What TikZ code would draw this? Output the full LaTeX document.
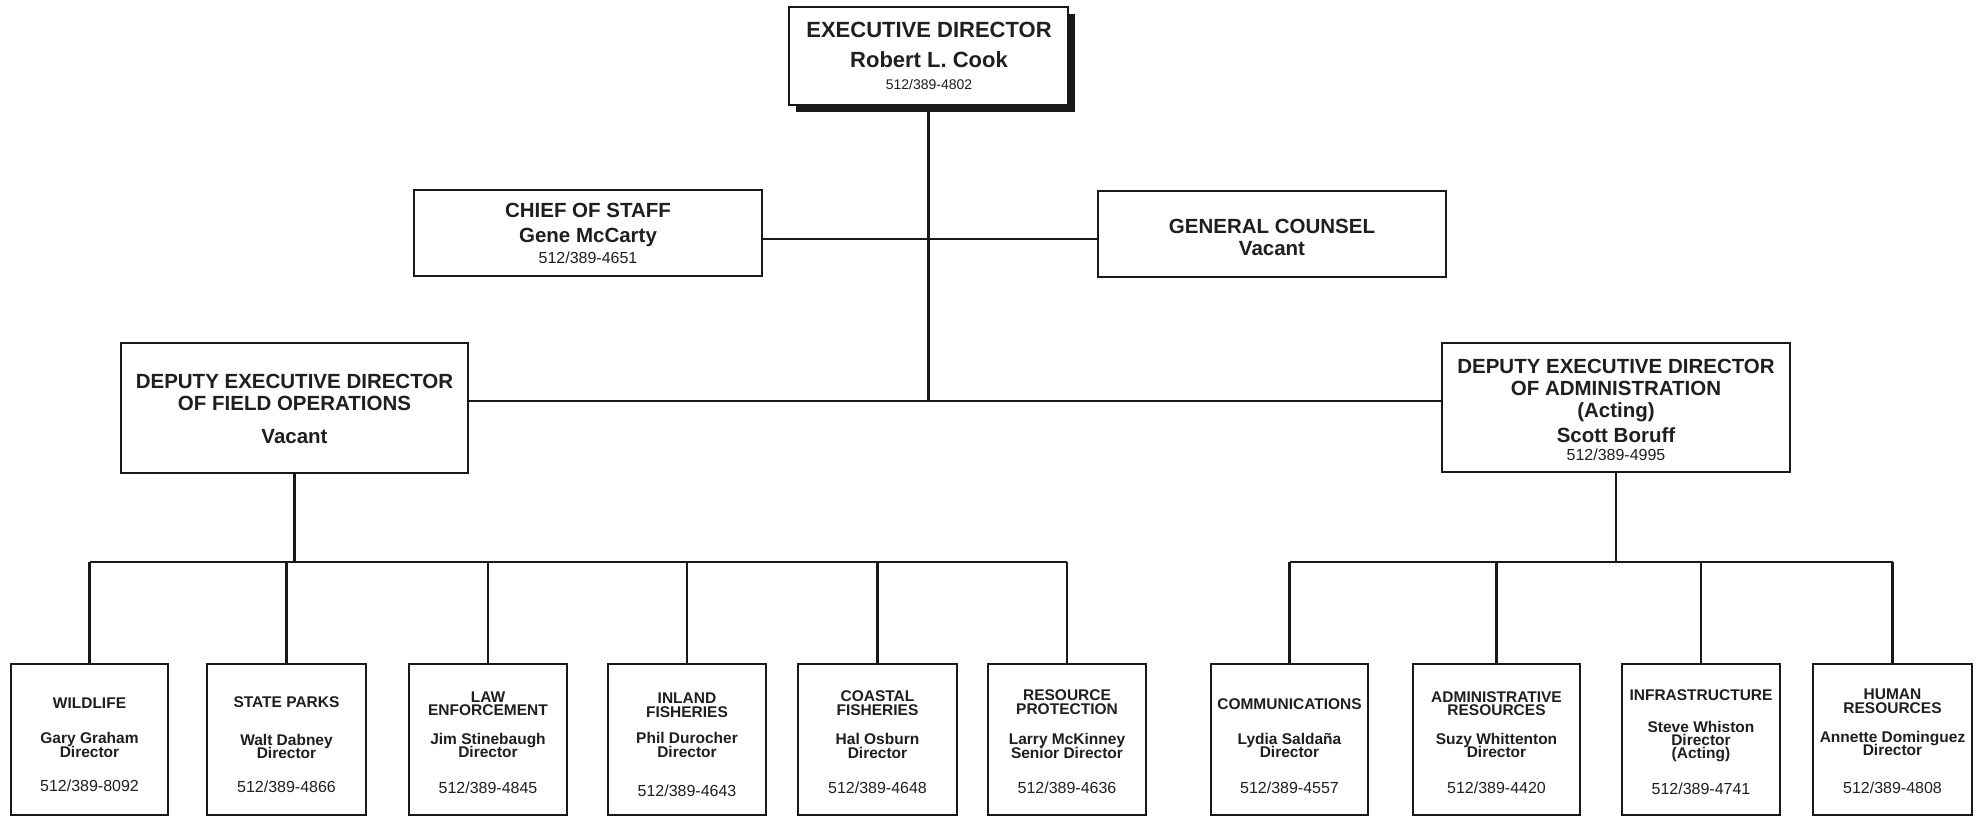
\documentclass[tikz,border=0pt]{standalone}
\usepackage{fontspec}
\setmainfont{Liberation Sans}
\newcommand\mkbox[5]{\node[box, minimum width={#4pt-#2pt}, minimum height={#5pt-#3pt}] (#1) at ({(#2+#4)/2},{(#3+#5)/2}) {};}
\newcommand\tx[5]{\node[#1] (#2) at (#3,#4) {#5};}
\begin{document}
\begin{tikzpicture}[x=1pt,y=-1pt,
  box/.style={draw=black!90, line width=2.6pt, fill=white, inner sep=0pt, outer sep=0pt},
  conn/.style={line width=2.3pt, draw=black!90},
  txt/.style={anchor=base, inner sep=0pt, text=black!88},
  xb/.style={txt, font=\fontsize{22}{22}\selectfont\bfseries},
  mb/.style={txt, font=\fontsize{20.5}{20.5}\selectfont\bfseries},
  sb/.style={txt, font=\fontsize{15.5}{15.5}\selectfont\bfseries},
  ph/.style={txt, font=\fontsize{16}{16}\selectfont},
  xph/.style={txt, font=\fontsize{14}{14}\selectfont}]
\useasboundingbox (0,0) rectangle (1976,816);

% executive director with shadow
\fill[black!90] (796,14) rectangle (1075,112);
\mkbox{exec}{789}{7}{1068}{105}
\tx{xb}{ex1}{929}{38}{EXECUTIVE DIRECTOR}
\tx{xb}{ex2}{929}{68}{Robert L. Cook}
\tx{xph}{ex3}{929}{89}{512/389-4802}

% second level
\mkbox{chief}{414}{190}{762}{276}
\tx{mb}{ch1}{588}{217}{CHIEF OF STAFF}
\tx{mb}{ch2}{588}{242}{Gene McCarty}
\tx{ph}{ch3}{588}{263}{512/389-4651}

\mkbox{gc}{1098}{191}{1446}{277}
\tx{mb}{gc1}{1272}{233}{GENERAL COUNSEL}
\tx{mb}{gc2}{1272}{255}{Vacant}

% deputies
\mkbox{defo}{121}{343}{468}{473}
\tx{mb}{df1}{294.5}{388}{DEPUTY EXECUTIVE DIRECTOR}
\tx{mb}{df2}{294.5}{410}{OF FIELD OPERATIONS}
\tx{mb}{df3}{294.5}{443}{Vacant}

\mkbox{deda}{1442}{343}{1790}{472}
\tx{mb}{da1}{1616}{373}{DEPUTY EXECUTIVE DIRECTOR}
\tx{mb}{da2}{1616}{395}{OF ADMINISTRATION}
\tx{mb}{da3}{1616}{417}{(Acting)}
\tx{mb}{da4}{1616}{442}{Scott Boruff}
\tx{ph}{da5}{1616}{460}{512/389-4995}

% bottom level boxes
\mkbox{wild}{11}{664}{168}{815}
\tx{sb}{w1}{89.5}{708}{WILDLIFE}
\tx{sb}{w2}{89.5}{743}{Gary Graham}
\tx{sb}{w3}{89.5}{757}{Director}
\tx{ph}{w4}{89.5}{791}{512/389-8092}

\mkbox{state}{207}{664}{366}{815}
\tx{sb}{s1}{286.5}{707}{STATE PARKS}
\tx{sb}{s2}{286.5}{745}{Walt Dabney}
\tx{sb}{s3}{286.5}{758}{Director}
\tx{ph}{s4}{286.5}{792}{512/389-4866}

\mkbox{law}{409}{664}{567}{815}
\tx{sb}{l1}{488}{702}{LAW}
\tx{sb}{l2}{488}{715}{ENFORCEMENT}
\tx{sb}{l3}{488}{744}{Jim Stinebaugh}
\tx{sb}{l4}{488}{757}{Director}
\tx{ph}{l5}{488}{793}{512/389-4845}

\mkbox{inland}{608}{664}{766}{815}
\tx{sb}{i1}{687}{703}{INLAND}
\tx{sb}{i2}{687}{717}{FISHERIES}
\tx{sb}{i3}{687}{743}{Phil Durocher}
\tx{sb}{i4}{687}{757}{Director}
\tx{ph}{i5}{687}{796}{512/389-4643}

\mkbox{coast}{798}{664}{957}{815}
\tx{sb}{c1}{877.5}{701}{COASTAL}
\tx{sb}{c2}{877.5}{715}{FISHERIES}
\tx{sb}{c3}{877.5}{744}{Hal Osburn}
\tx{sb}{c4}{877.5}{758}{Director}
\tx{ph}{c5}{877.5}{793}{512/389-4648}

\mkbox{res}{988}{664}{1146}{815}
\tx{sb}{r1}{1067}{700}{RESOURCE}
\tx{sb}{r2}{1067}{714}{PROTECTION}
\tx{sb}{r3}{1067}{744}{Larry McKinney}
\tx{sb}{r4}{1067}{758}{Senior Director}
\tx{ph}{r5}{1067}{793}{512/389-4636}

\mkbox{comm}{1211}{664}{1368}{815}
\tx{sb}{m1}{1289.5}{709}{COMMUNICATIONS}
\tx{sb}{m2}{1289.5}{744}{Lydia Saldaña}
\tx{sb}{m3}{1289.5}{757}{Director}
\tx{ph}{m4}{1289.5}{793}{512/389-4557}

\mkbox{admin}{1413}{664}{1580}{815}
\tx{sb}{a1}{1496.5}{702}{ADMINISTRATIVE}
\tx{sb}{a2}{1496.5}{715}{RESOURCES}
\tx{sb}{a3}{1496.5}{744}{Suzy Whittenton}
\tx{sb}{a4}{1496.5}{757}{Director}
\tx{ph}{a5}{1496.5}{793}{512/389-4420}

\mkbox{infra}{1622}{664}{1780}{815}
\tx{sb}{f1}{1701}{700}{INFRASTRUCTURE}
\tx{sb}{f2}{1701}{732}{Steve Whiston}
\tx{sb}{f3}{1701}{745}{Director}
\tx{sb}{f4}{1701}{758}{(Acting)}
\tx{ph}{f5}{1701}{794}{512/389-4741}

\mkbox{hr}{1813}{664}{1972}{815}
\tx{sb}{h1}{1892.5}{699}{HUMAN}
\tx{sb}{h2}{1892.5}{713}{RESOURCES}
\tx{sb}{h3}{1892.5}{742}{Annette Dominguez}
\tx{sb}{h4}{1892.5}{755}{Director}
\tx{ph}{h5}{1892.5}{793}{512/389-4808}

% connectors
\coordinate (j1) at (929,239);
\coordinate (j2) at (929,401);
\coordinate (lb) at (0,562);
\draw[conn] (exec.south) -- (exec.south |- j2);
\draw[conn] (chief.east |- j1) -- (gc.west |- j1);
\draw[conn] (defo.east |- j2) -- (deda.west |- j2);

\draw[conn] (defo.south) -- (defo.south |- lb);
\draw[conn] (wild.north |- lb) -- (res.north |- lb);
\foreach \b in {wild,state,law,inland,coast,res}
  \draw[conn] (\b.north) -- (\b.north |- lb);

\draw[conn] (deda.south) -- (deda.south |- lb);
\draw[conn] (comm.north |- lb) -- (hr.north |- lb);
\foreach \b in {comm,admin,infra,hr}
  \draw[conn] (\b.north) -- (\b.north |- lb);
\end{tikzpicture}
\end{document}
